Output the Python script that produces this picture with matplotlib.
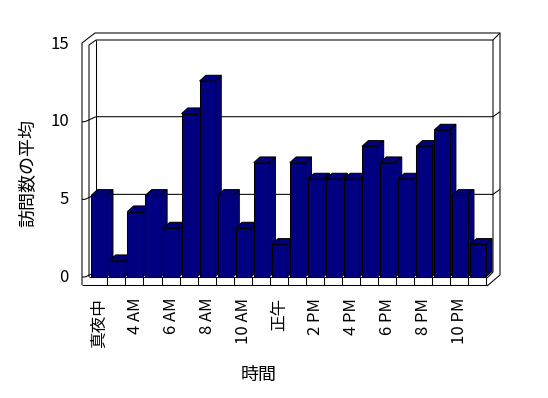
import matplotlib
matplotlib.use("Agg")
import matplotlib.pyplot as plt
from matplotlib.patches import Polygon

plt.rcParams["font.family"] = ["Noto Sans CJK JP", "DejaVu Sans"]

# data
hour_labels = ["真夜中", "4 AM", "6 AM", "8 AM", "10 AM", "正午",
               "2 PM", "4 PM", "6 PM", "8 PM", "10 PM"]
avg_visits = [5, 1, 4, 5, 3, 10, 12, 5, 3, 7, 2,
              7, 6, 6, 6, 8, 7, 6, 8, 9, 5, 2]
y_ticks = [0, 5, 10, 15]

navy = "#000080"
lw = 0.75
W, H = 548, 398

fig = plt.figure(figsize=(W / 100, H / 100), dpi=100)

# pixel overlay for the 3D frame (walls + floor)
ax_px = fig.add_axes([0, 0, 1, 1], zorder=0)
ax_px.set_xlim(0, W)
ax_px.set_ylim(H, 0)
ax_px.axis("off")

def line(pts):
    xs, ys = zip(*pts)
    ax_px.plot(xs, ys, color="black", lw=lw, solid_capstyle="butt")

n = len(avg_visits)
cell = 18.05
x0 = 89.3
x_end = x0 + cell * n
wall_scale = 15.53

# back wall and walls
line([(82, 285), (82, 43), (95, 33), (500, 33), (500, 275), (487, 286)])
line([(89, 277), (89, 45), (96, 40), (493, 40), (500, 33)])
line([(96, 40), (96, 272)])
line([(493, 40), (493, 272), (487, 278)])
# floor front slab
line([(82, 285), (x_end, 285), (x_end, 277), (89, 277)])
for i in range(1, n):
    xx = x0 + cell * i
    line([(xx, 277), (xx, 285)])
# gridlines and tick marks on walls
for v in y_ticks[1:-1]:
    yb = 272 - wall_scale * v
    line([(96, yb), (493, yb), (500, yb - 5)])
for v in y_ticks[:-1]:
    yf = 277 - wall_scale * v
    yb = 272 - wall_scale * v
    line([(82, yf), (85, yf), (96, yb)])
for v in y_ticks:
    ax_px.text(69, 277 - wall_scale * v, str(v), ha="right", va="center",
               fontsize=12)

ax_px.text(28, 173, "訪問数の平均", rotation=90, ha="center", va="center",
           fontsize=13)
ax_px.text(259, 375, "時間", ha="center", va="center", fontsize=13)

# bars axes: front plane
ax = fig.add_axes([x0 / W, (H - 277) / H, (x_end - x0) / W, 245 / H], zorder=1)
ax.patch.set_alpha(0)
ax.set_xlim(0, n)
ax.set_ylim(0, 15)
for s in ax.spines.values():
    s.set_visible(False)
ax.set_yticks([])

off = 0.11
bw = 0.85
dx, dy = 0.35, 0.35
lefts = [i + off for i in range(n)]
for xl, v in zip(lefts, avg_visits):
    xr = xl + bw
    side = Polygon([(xr, 0), (xr + dx, dy), (xr + dx, v + dy), (xr, v)],
                   closed=True, facecolor=navy, edgecolor="black", lw=lw,
                   zorder=2, clip_on=False)
    top = Polygon([(xl, v), (xl + dx, v + dy), (xr + dx, v + dy), (xr, v)],
                  closed=True, facecolor=navy, edgecolor="black", lw=lw,
                  zorder=2, clip_on=False)
    ax.add_patch(side)
    ax.add_patch(top)
ax.bar(lefts, avg_visits, width=bw, align="edge", color=navy,
       edgecolor="black", lw=lw, zorder=3, clip_on=False)

ax.set_xticks([lefts[i] + bw / 2 for i in range(0, n, 2)])
ax.set_xticklabels(hour_labels, rotation=90, va="top", fontsize=12)
ax.tick_params(axis="x", length=0, pad=15)

fig.savefig("out.png", dpi=100)
